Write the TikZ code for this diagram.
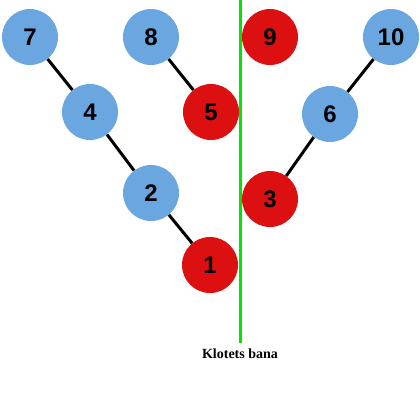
\documentclass[tikz,border=0pt]{standalone}
\usepackage{fontspec}
\setmainfont{Liberation Serif}
\newfontfamily\numfont{Liberation Sans}
\usepackage{xcolor}
\usetikzlibrary{positioning}

\definecolor{nodeblue}{RGB}{106,166,224}
\definecolor{nodered}{RGB}{220,16,16}
\definecolor{banagreen}{RGB}{0,230,0}

\begin{document}
\begin{tikzpicture}[
  x=1pt, y=-1pt,
  knot/.style={circle, minimum size=56pt, inner sep=0pt, font=\numfont\bfseries\fontsize{24}{24}\selectfont},
  blue/.style={knot, fill=nodeblue},
  red/.style={knot, fill=nodered},
  edge/.style={line width=3pt}
]
\useasboundingbox (0,0) rectangle (420,400);

% top row
\node[blue] (n7) at (30,37) {7};
\node[blue] (n8) at (151,37) {8};
\node[red] (n9) at (270,37) {9};
\node[blue] (n10) at (391,37) {10};
% middle rows
\node[blue] (n4) at (90,112) {4};
\node[red] (n5) at (211,112) {5};
\node[blue] (n6) at (330,114) {6};
\node[blue] (n2) at (151,193) {2};
\node[red] (n3) at (270,199) {3};
\node[red] (n1) at (210,265) {1};

% path of the ball
\coordinate (top) at (240,0);
\coordinate (bot) at (240,343);
\draw[banagreen, line width=3pt] (top) -- (bot);
\node[font=\bfseries\fontsize{14}{15}\selectfont, below=2pt of bot] (bana) {Klotets bana};

\draw[edge] (n7) -- (n4);
\draw[edge] (n4) -- (n2);
\draw[edge] (n2) -- (n1);
\draw[edge] (n8) -- (n5);
\draw[edge] (n3) -- (n6);
\draw[edge] (n6) -- (n10);
\end{tikzpicture}
\end{document}
